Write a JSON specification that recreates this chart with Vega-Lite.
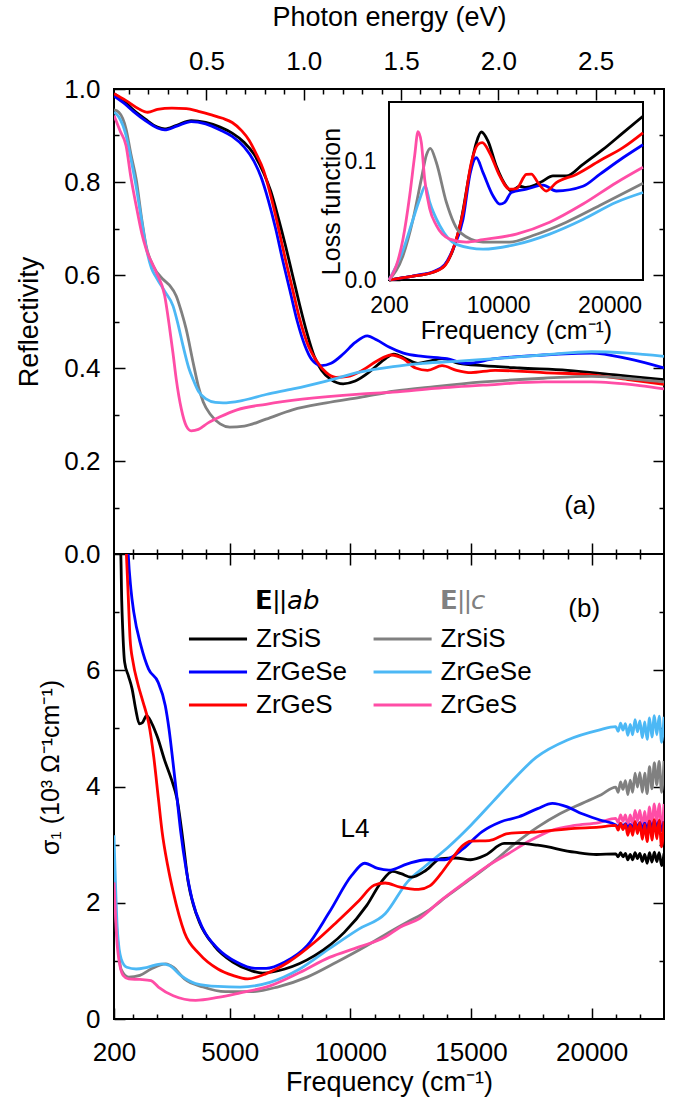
{
  "$schema": "https://vega.github.io/schema/vega-lite/v6.json",
  "padding": {"left": 14, "top": 2, "right": 17, "bottom": 5},
  "background": "white",
  "spacing": 0,
  "bounds": "flush",
  "config": {
    "view": {"stroke": "black", "strokeWidth": 2},
    "axis": {"domain": false, "grid": false, "tickColor": "black", "tickWidth": 1.5, "labelFont": "Liberation Sans", "labelFontSize": 26, "labelColor": "black", "titleFont": "Liberation Sans", "titleFontSize": 27, "titleFontWeight": "normal", "titleColor": "black", "labelOverlap": false, "labelFlush": false, "labelBound": false},
    "text": {"font": "Liberation Sans", "fontSize": 26}
  },
  "datasets": {
    "Rab": [
      {"sample":"ZrSiS ab","freq":200,"value":0.99},{"sample":"ZrSiS ab","freq":600,"value":0.975},{"sample":"ZrSiS ab","freq":1000,"value":0.955},{"sample":"ZrSiS ab","freq":1500,"value":0.935},{"sample":"ZrSiS ab","freq":2000,"value":0.918},{"sample":"ZrSiS ab","freq":2300,"value":0.914},{"sample":"ZrSiS ab","freq":2800,"value":0.922},{"sample":"ZrSiS ab","freq":3400,"value":0.932},{"sample":"ZrSiS ab","freq":4000,"value":0.928},{"sample":"ZrSiS ab","freq":4600,"value":0.918},{"sample":"ZrSiS ab","freq":5100,"value":0.905},{"sample":"ZrSiS ab","freq":5600,"value":0.885},{"sample":"ZrSiS ab","freq":6000,"value":0.86},{"sample":"ZrSiS ab","freq":6400,"value":0.82},{"sample":"ZrSiS ab","freq":6700,"value":0.78},{"sample":"ZrSiS ab","freq":7000,"value":0.725},{"sample":"ZrSiS ab","freq":7300,"value":0.665},{"sample":"ZrSiS ab","freq":7600,"value":0.6},{"sample":"ZrSiS ab","freq":7900,"value":0.535},{"sample":"ZrSiS ab","freq":8200,"value":0.475},{"sample":"ZrSiS ab","freq":8500,"value":0.425},{"sample":"ZrSiS ab","freq":8800,"value":0.395},{"sample":"ZrSiS ab","freq":9200,"value":0.375},{"sample":"ZrSiS ab","freq":9700,"value":0.366},{"sample":"ZrSiS ab","freq":10200,"value":0.372},{"sample":"ZrSiS ab","freq":10800,"value":0.392},{"sample":"ZrSiS ab","freq":11400,"value":0.418},{"sample":"ZrSiS ab","freq":11800,"value":0.43},{"sample":"ZrSiS ab","freq":12300,"value":0.42},{"sample":"ZrSiS ab","freq":12800,"value":0.41},{"sample":"ZrSiS ab","freq":13300,"value":0.415},{"sample":"ZrSiS ab","freq":13800,"value":0.42},{"sample":"ZrSiS ab","freq":14500,"value":0.41},{"sample":"ZrSiS ab","freq":15500,"value":0.405},{"sample":"ZrSiS ab","freq":17000,"value":0.4},{"sample":"ZrSiS ab","freq":19000,"value":0.395},{"sample":"ZrSiS ab","freq":21000,"value":0.385},{"sample":"ZrSiS ab","freq":23000,"value":0.375},
      {"sample":"ZrGeSe ab","freq":200,"value":0.985},{"sample":"ZrGeSe ab","freq":600,"value":0.97},{"sample":"ZrGeSe ab","freq":1000,"value":0.952},{"sample":"ZrGeSe ab","freq":1500,"value":0.932},{"sample":"ZrGeSe ab","freq":2000,"value":0.916},{"sample":"ZrGeSe ab","freq":2300,"value":0.912},{"sample":"ZrGeSe ab","freq":2800,"value":0.92},{"sample":"ZrGeSe ab","freq":3400,"value":0.93},{"sample":"ZrGeSe ab","freq":4000,"value":0.925},{"sample":"ZrGeSe ab","freq":4600,"value":0.912},{"sample":"ZrGeSe ab","freq":5100,"value":0.898},{"sample":"ZrGeSe ab","freq":5600,"value":0.875},{"sample":"ZrGeSe ab","freq":6000,"value":0.845},{"sample":"ZrGeSe ab","freq":6300,"value":0.81},{"sample":"ZrGeSe ab","freq":6600,"value":0.76},{"sample":"ZrGeSe ab","freq":6900,"value":0.7},{"sample":"ZrGeSe ab","freq":7200,"value":0.63},{"sample":"ZrGeSe ab","freq":7500,"value":0.565},{"sample":"ZrGeSe ab","freq":7800,"value":0.5},{"sample":"ZrGeSe ab","freq":8100,"value":0.45},{"sample":"ZrGeSe ab","freq":8400,"value":0.418},{"sample":"ZrGeSe ab","freq":8800,"value":0.405},{"sample":"ZrGeSe ab","freq":9200,"value":0.41},{"sample":"ZrGeSe ab","freq":9700,"value":0.43},{"sample":"ZrGeSe ab","freq":10200,"value":0.455},{"sample":"ZrGeSe ab","freq":10700,"value":0.469},{"sample":"ZrGeSe ab","freq":11100,"value":0.46},{"sample":"ZrGeSe ab","freq":11600,"value":0.445},{"sample":"ZrGeSe ab","freq":12200,"value":0.432},{"sample":"ZrGeSe ab","freq":13000,"value":0.425},{"sample":"ZrGeSe ab","freq":14000,"value":0.42},{"sample":"ZrGeSe ab","freq":14800,"value":0.41},{"sample":"ZrGeSe ab","freq":16000,"value":0.42},{"sample":"ZrGeSe ab","freq":18000,"value":0.428},{"sample":"ZrGeSe ab","freq":20000,"value":0.432},{"sample":"ZrGeSe ab","freq":21500,"value":0.42},{"sample":"ZrGeSe ab","freq":23000,"value":0.4},
      {"sample":"ZrGeS ab","freq":200,"value":0.99},{"sample":"ZrGeS ab","freq":700,"value":0.975},{"sample":"ZrGeS ab","freq":1200,"value":0.958},{"sample":"ZrGeS ab","freq":1600,"value":0.95},{"sample":"ZrGeS ab","freq":2000,"value":0.956},{"sample":"ZrGeS ab","freq":2600,"value":0.959},{"sample":"ZrGeS ab","freq":3200,"value":0.958},{"sample":"ZrGeS ab","freq":3700,"value":0.952},{"sample":"ZrGeS ab","freq":4200,"value":0.945},{"sample":"ZrGeS ab","freq":4700,"value":0.937},{"sample":"ZrGeS ab","freq":5100,"value":0.928},{"sample":"ZrGeS ab","freq":5500,"value":0.91},{"sample":"ZrGeS ab","freq":5800,"value":0.89},{"sample":"ZrGeS ab","freq":6100,"value":0.86},{"sample":"ZrGeS ab","freq":6400,"value":0.825},{"sample":"ZrGeS ab","freq":6700,"value":0.77},{"sample":"ZrGeS ab","freq":7000,"value":0.705},{"sample":"ZrGeS ab","freq":7300,"value":0.635},{"sample":"ZrGeS ab","freq":7600,"value":0.57},{"sample":"ZrGeS ab","freq":7900,"value":0.505},{"sample":"ZrGeS ab","freq":8200,"value":0.455},{"sample":"ZrGeS ab","freq":8600,"value":0.415},{"sample":"ZrGeS ab","freq":9000,"value":0.39},{"sample":"ZrGeS ab","freq":9400,"value":0.38},{"sample":"ZrGeS ab","freq":9900,"value":0.382},{"sample":"ZrGeS ab","freq":10500,"value":0.395},{"sample":"ZrGeS ab","freq":11100,"value":0.415},{"sample":"ZrGeS ab","freq":11700,"value":0.428},{"sample":"ZrGeS ab","freq":12200,"value":0.42},{"sample":"ZrGeS ab","freq":12700,"value":0.4},{"sample":"ZrGeS ab","freq":13200,"value":0.395},{"sample":"ZrGeS ab","freq":13800,"value":0.405},{"sample":"ZrGeS ab","freq":14400,"value":0.395},{"sample":"ZrGeS ab","freq":15000,"value":0.39},{"sample":"ZrGeS ab","freq":16000,"value":0.395},{"sample":"ZrGeS ab","freq":18000,"value":0.39},{"sample":"ZrGeS ab","freq":20000,"value":0.385},{"sample":"ZrGeS ab","freq":21500,"value":0.375},{"sample":"ZrGeS ab","freq":23000,"value":0.365}
    ],
    "Rc": [
      {"sample":"ZrSiS c","freq":200,"value":0.955},{"sample":"ZrSiS c","freq":400,"value":0.95},{"sample":"ZrSiS c","freq":700,"value":0.914},{"sample":"ZrSiS c","freq":900,"value":0.86},{"sample":"ZrSiS c","freq":1120,"value":0.806},{"sample":"ZrSiS c","freq":1350,"value":0.72},{"sample":"ZrSiS c","freq":1530,"value":0.663},{"sample":"ZrSiS c","freq":1820,"value":0.62},{"sample":"ZrSiS c","freq":2230,"value":0.591},{"sample":"ZrSiS c","freq":2500,"value":0.578},{"sample":"ZrSiS c","freq":2780,"value":0.555},{"sample":"ZrSiS c","freq":3000,"value":0.52},{"sample":"ZrSiS c","freq":3190,"value":0.484},{"sample":"ZrSiS c","freq":3475,"value":0.413},{"sample":"ZrSiS c","freq":3700,"value":0.36},{"sample":"ZrSiS c","freq":3900,"value":0.327},{"sample":"ZrSiS c","freq":4200,"value":0.3},{"sample":"ZrSiS c","freq":4600,"value":0.28},{"sample":"ZrSiS c","freq":5000,"value":0.273},{"sample":"ZrSiS c","freq":5600,"value":0.275},{"sample":"ZrSiS c","freq":6500,"value":0.29},{"sample":"ZrSiS c","freq":7600,"value":0.31},{"sample":"ZrSiS c","freq":9000,"value":0.325},{"sample":"ZrSiS c","freq":10400,"value":0.337},{"sample":"ZrSiS c","freq":11800,"value":0.35},{"sample":"ZrSiS c","freq":13500,"value":0.36},{"sample":"ZrSiS c","freq":15500,"value":0.37},{"sample":"ZrSiS c","freq":18000,"value":0.378},{"sample":"ZrSiS c","freq":20000,"value":0.382},{"sample":"ZrSiS c","freq":22000,"value":0.375},{"sample":"ZrSiS c","freq":23000,"value":0.37},
      {"sample":"ZrGeSe c","freq":200,"value":0.95},{"sample":"ZrGeSe c","freq":400,"value":0.94},{"sample":"ZrGeSe c","freq":700,"value":0.9},{"sample":"ZrGeSe c","freq":900,"value":0.85},{"sample":"ZrGeSe c","freq":1120,"value":0.79},{"sample":"ZrGeSe c","freq":1350,"value":0.715},{"sample":"ZrGeSe c","freq":1530,"value":0.66},{"sample":"ZrGeSe c","freq":1750,"value":0.615},{"sample":"ZrGeSe c","freq":1950,"value":0.595},{"sample":"ZrGeSe c","freq":2300,"value":0.565},{"sample":"ZrGeSe c","freq":2650,"value":0.533},{"sample":"ZrGeSe c","freq":2850,"value":0.495},{"sample":"ZrGeSe c","freq":3060,"value":0.448},{"sample":"ZrGeSe c","freq":3300,"value":0.4},{"sample":"ZrGeSe c","freq":3475,"value":0.376},{"sample":"ZrGeSe c","freq":3700,"value":0.35},{"sample":"ZrGeSe c","freq":4030,"value":0.333},{"sample":"ZrGeSe c","freq":4400,"value":0.326},{"sample":"ZrGeSe c","freq":4720,"value":0.325},{"sample":"ZrGeSe c","freq":5500,"value":0.33},{"sample":"ZrGeSe c","freq":6500,"value":0.343},{"sample":"ZrGeSe c","freq":7620,"value":0.355},{"sample":"ZrGeSe c","freq":9000,"value":0.372},{"sample":"ZrGeSe c","freq":10380,"value":0.391},{"sample":"ZrGeSe c","freq":11770,"value":0.403},{"sample":"ZrGeSe c","freq":13000,"value":0.41},{"sample":"ZrGeSe c","freq":14500,"value":0.415},{"sample":"ZrGeSe c","freq":16000,"value":0.42},{"sample":"ZrGeSe c","freq":18000,"value":0.428},{"sample":"ZrGeSe c","freq":20000,"value":0.435},{"sample":"ZrGeSe c","freq":21500,"value":0.432},{"sample":"ZrGeSe c","freq":23000,"value":0.425},
      {"sample":"ZrGeS c","freq":200,"value":0.943},{"sample":"ZrGeS c","freq":450,"value":0.91},{"sample":"ZrGeS c","freq":700,"value":0.878},{"sample":"ZrGeS c","freq":900,"value":0.81},{"sample":"ZrGeS c","freq":1120,"value":0.749},{"sample":"ZrGeS c","freq":1350,"value":0.69},{"sample":"ZrGeS c","freq":1530,"value":0.656},{"sample":"ZrGeS c","freq":1950,"value":0.606},{"sample":"ZrGeS c","freq":2300,"value":0.556},{"sample":"ZrGeS c","freq":2510,"value":0.484},{"sample":"ZrGeS c","freq":2650,"value":0.43},{"sample":"ZrGeS c","freq":2780,"value":0.376},{"sample":"ZrGeS c","freq":2990,"value":0.312},{"sample":"ZrGeS c","freq":3200,"value":0.275},{"sample":"ZrGeS c","freq":3400,"value":0.265},{"sample":"ZrGeS c","freq":3700,"value":0.268},{"sample":"ZrGeS c","freq":4100,"value":0.282},{"sample":"ZrGeS c","freq":4600,"value":0.295},{"sample":"ZrGeS c","freq":5300,"value":0.31},{"sample":"ZrGeS c","freq":6500,"value":0.322},{"sample":"ZrGeS c","freq":8000,"value":0.333},{"sample":"ZrGeS c","freq":10380,"value":0.344},{"sample":"ZrGeS c","freq":11770,"value":0.348},{"sample":"ZrGeS c","freq":13500,"value":0.356},{"sample":"ZrGeS c","freq":15500,"value":0.363},{"sample":"ZrGeS c","freq":18000,"value":0.37},{"sample":"ZrGeS c","freq":20000,"value":0.37},{"sample":"ZrGeS c","freq":22000,"value":0.362},{"sample":"ZrGeS c","freq":23000,"value":0.355}
    ],
    "Sab": [
      {"sample":"ZrSiS ab","freq":200,"value":9.5},{"sample":"ZrSiS ab","freq":400,"value":8.4},{"sample":"ZrSiS ab","freq":482,"value":8.0},{"sample":"ZrSiS ab","freq":520,"value":7.2},{"sample":"ZrSiS ab","freq":561,"value":6.71},{"sample":"ZrSiS ab","freq":640,"value":6.14},{"sample":"ZrSiS ab","freq":800,"value":5.9},{"sample":"ZrSiS ab","freq":950,"value":5.68},{"sample":"ZrSiS ab","freq":1100,"value":5.33},{"sample":"ZrSiS ab","freq":1250,"value":5.08},{"sample":"ZrSiS ab","freq":1380,"value":5.1},{"sample":"ZrSiS ab","freq":1550,"value":5.22},{"sample":"ZrSiS ab","freq":1750,"value":5.1},{"sample":"ZrSiS ab","freq":2000,"value":4.85},{"sample":"ZrSiS ab","freq":2300,"value":4.45},{"sample":"ZrSiS ab","freq":2600,"value":4.1},{"sample":"ZrSiS ab","freq":2812,"value":3.79},{"sample":"ZrSiS ab","freq":3050,"value":3.1},{"sample":"ZrSiS ab","freq":3274,"value":2.36},{"sample":"ZrSiS ab","freq":3500,"value":1.95},{"sample":"ZrSiS ab","freq":3736,"value":1.67},{"sample":"ZrSiS ab","freq":4353,"value":1.26},{"sample":"ZrSiS ab","freq":5123,"value":0.98},{"sample":"ZrSiS ab","freq":5894,"value":0.83},{"sample":"ZrSiS ab","freq":6356,"value":0.79},{"sample":"ZrSiS ab","freq":7281,"value":0.86},{"sample":"ZrSiS ab","freq":8513,"value":1.09},{"sample":"ZrSiS ab","freq":9746,"value":1.49},{"sample":"ZrSiS ab","freq":10671,"value":1.95},{"sample":"ZrSiS ab","freq":11287,"value":2.36},{"sample":"ZrSiS ab","freq":11750,"value":2.54},{"sample":"ZrSiS ab","freq":12100,"value":2.5},{"sample":"ZrSiS ab","freq":12520,"value":2.44},{"sample":"ZrSiS ab","freq":13136,"value":2.56},{"sample":"ZrSiS ab","freq":13753,"value":2.76},{"sample":"ZrSiS ab","freq":14369,"value":2.77},{"sample":"ZrSiS ab","freq":14986,"value":2.74},{"sample":"ZrSiS ab","freq":15602,"value":2.82},{"sample":"ZrSiS ab","freq":16372,"value":3.02},{"sample":"ZrSiS ab","freq":16988,"value":3.02},{"sample":"ZrSiS ab","freq":17759,"value":2.99},{"sample":"ZrSiS ab","freq":19300,"value":2.87},{"sample":"ZrSiS ab","freq":20200,"value":2.83},
      {"sample":"ZrSiS ab","freq":21000,"value":2.84},{"sample":"ZrSiS ab","freq":21100,"value":2.79},{"sample":"ZrSiS ab","freq":21200,"value":2.86},{"sample":"ZrSiS ab","freq":21300,"value":2.79},{"sample":"ZrSiS ab","freq":21400,"value":2.85},{"sample":"ZrSiS ab","freq":21500,"value":2.74},{"sample":"ZrSiS ab","freq":21600,"value":2.83},{"sample":"ZrSiS ab","freq":21700,"value":2.74},{"sample":"ZrSiS ab","freq":21800,"value":2.86},{"sample":"ZrSiS ab","freq":21900,"value":2.76},{"sample":"ZrSiS ab","freq":22000,"value":2.85},{"sample":"ZrSiS ab","freq":22100,"value":2.71},{"sample":"ZrSiS ab","freq":22200,"value":2.83},{"sample":"ZrSiS ab","freq":22300,"value":2.68},{"sample":"ZrSiS ab","freq":22400,"value":2.86},{"sample":"ZrSiS ab","freq":22500,"value":2.7},{"sample":"ZrSiS ab","freq":22600,"value":2.87},{"sample":"ZrSiS ab","freq":22700,"value":2.71},{"sample":"ZrSiS ab","freq":22800,"value":2.86},{"sample":"ZrSiS ab","freq":22900,"value":2.64},{"sample":"ZrSiS ab","freq":23000,"value":2.85},
      {"sample":"ZrGeSe ab","freq":700,"value":9.0},{"sample":"ZrGeSe ab","freq":790,"value":8.0},{"sample":"ZrGeSe ab","freq":900,"value":7.4},{"sample":"ZrGeSe ab","freq":1020,"value":7.0},{"sample":"ZrGeSe ab","freq":1320,"value":6.42},{"sample":"ZrGeSe ab","freq":1634,"value":6.02},{"sample":"ZrGeSe ab","freq":2020,"value":5.8},{"sample":"ZrGeSe ab","freq":2327,"value":5.39},{"sample":"ZrGeSe ab","freq":2480,"value":4.99},{"sample":"ZrGeSe ab","freq":2650,"value":4.4},{"sample":"ZrGeSe ab","freq":2800,"value":3.85},{"sample":"ZrGeSe ab","freq":2966,"value":3.22},{"sample":"ZrGeSe ab","freq":3200,"value":2.55},{"sample":"ZrGeSe ab","freq":3428,"value":2.07},{"sample":"ZrGeSe ab","freq":3890,"value":1.55},{"sample":"ZrGeSe ab","freq":4507,"value":1.21},{"sample":"ZrGeSe ab","freq":5277,"value":0.98},{"sample":"ZrGeSe ab","freq":6048,"value":0.87},{"sample":"ZrGeSe ab","freq":6510,"value":0.87},{"sample":"ZrGeSe ab","freq":7281,"value":0.98},{"sample":"ZrGeSe ab","freq":8205,"value":1.26},{"sample":"ZrGeSe ab","freq":9130,"value":1.84},{"sample":"ZrGeSe ab","freq":10054,"value":2.47},{"sample":"ZrGeSe ab","freq":10594,"value":2.68},{"sample":"ZrGeSe ab","freq":11133,"value":2.59},{"sample":"ZrGeSe ab","freq":11595,"value":2.56},{"sample":"ZrGeSe ab","freq":12366,"value":2.67},{"sample":"ZrGeSe ab","freq":13136,"value":2.74},{"sample":"ZrGeSe ab","freq":13907,"value":2.74},{"sample":"ZrGeSe ab","freq":14677,"value":2.93},{"sample":"ZrGeSe ab","freq":15448,"value":3.22},{"sample":"ZrGeSe ab","freq":16218,"value":3.39},{"sample":"ZrGeSe ab","freq":16988,"value":3.48},{"sample":"ZrGeSe ab","freq":17759,"value":3.62},{"sample":"ZrGeSe ab","freq":18375,"value":3.71},{"sample":"ZrGeSe ab","freq":18991,"value":3.65},{"sample":"ZrGeSe ab","freq":19608,"value":3.53},{"sample":"ZrGeSe ab","freq":20378,"value":3.42},
      {"sample":"ZrGeSe ab","freq":21000,"value":3.34},{"sample":"ZrGeSe ab","freq":21100,"value":3.31},{"sample":"ZrGeSe ab","freq":21200,"value":3.36},{"sample":"ZrGeSe ab","freq":21300,"value":3.32},{"sample":"ZrGeSe ab","freq":21400,"value":3.36},{"sample":"ZrGeSe ab","freq":21500,"value":3.29},{"sample":"ZrGeSe ab","freq":21600,"value":3.35},{"sample":"ZrGeSe ab","freq":21700,"value":3.29},{"sample":"ZrGeSe ab","freq":21800,"value":3.38},{"sample":"ZrGeSe ab","freq":21900,"value":3.31},{"sample":"ZrGeSe ab","freq":22000,"value":3.38},{"sample":"ZrGeSe ab","freq":22100,"value":3.27},{"sample":"ZrGeSe ab","freq":22200,"value":3.37},{"sample":"ZrGeSe ab","freq":22300,"value":3.26},{"sample":"ZrGeSe ab","freq":22400,"value":3.4},{"sample":"ZrGeSe ab","freq":22500,"value":3.28},{"sample":"ZrGeSe ab","freq":22600,"value":3.41},{"sample":"ZrGeSe ab","freq":22700,"value":3.29},{"sample":"ZrGeSe ab","freq":22800,"value":3.41},{"sample":"ZrGeSe ab","freq":22900,"value":3.24},{"sample":"ZrGeSe ab","freq":23000,"value":3.4},
      {"sample":"ZrGeS ab","freq":600,"value":9.0},{"sample":"ZrGeS ab","freq":714,"value":8.0},{"sample":"ZrGeS ab","freq":790,"value":7.28},{"sample":"ZrGeS ab","freq":867,"value":6.54},{"sample":"ZrGeS ab","freq":990,"value":6.14},{"sample":"ZrGeS ab","freq":1174,"value":5.79},{"sample":"ZrGeS ab","freq":1405,"value":5.45},{"sample":"ZrGeS ab","freq":1634,"value":5.1},{"sample":"ZrGeS ab","freq":1850,"value":4.5},{"sample":"ZrGeS ab","freq":2041,"value":3.79},{"sample":"ZrGeS ab","freq":2195,"value":3.22},{"sample":"ZrGeS ab","freq":2426,"value":2.64},{"sample":"ZrGeS ab","freq":2658,"value":2.18},{"sample":"ZrGeS ab","freq":3120,"value":1.49},{"sample":"ZrGeS ab","freq":3736,"value":1.12},{"sample":"ZrGeS ab","freq":4507,"value":0.86},{"sample":"ZrGeS ab","freq":5123,"value":0.75},{"sample":"ZrGeS ab","freq":5740,"value":0.69},{"sample":"ZrGeS ab","freq":6510,"value":0.78},{"sample":"ZrGeS ab","freq":7435,"value":0.98},{"sample":"ZrGeS ab","freq":8513,"value":1.32},{"sample":"ZrGeS ab","freq":9438,"value":1.67},{"sample":"ZrGeS ab","freq":10363,"value":2.04},{"sample":"ZrGeS ab","freq":10979,"value":2.3},{"sample":"ZrGeS ab","freq":11441,"value":2.34},{"sample":"ZrGeS ab","freq":12058,"value":2.27},{"sample":"ZrGeS ab","freq":12828,"value":2.23},{"sample":"ZrGeS ab","freq":13291,"value":2.29},{"sample":"ZrGeS ab","freq":13753,"value":2.5},{"sample":"ZrGeS ab","freq":14215,"value":2.76},{"sample":"ZrGeS ab","freq":14677,"value":2.99},{"sample":"ZrGeS ab","freq":14986,"value":3.06},{"sample":"ZrGeS ab","freq":15756,"value":3.07},{"sample":"ZrGeS ab","freq":16527,"value":3.19},{"sample":"ZrGeS ab","freq":17759,"value":3.22},{"sample":"ZrGeS ab","freq":19300,"value":3.28},{"sample":"ZrGeS ab","freq":20300,"value":3.3},
      {"sample":"ZrGeS ab","freq":21000,"value":3.33},{"sample":"ZrGeS ab","freq":21100,"value":3.25},{"sample":"ZrGeS ab","freq":21200,"value":3.37},{"sample":"ZrGeS ab","freq":21300,"value":3.26},{"sample":"ZrGeS ab","freq":21400,"value":3.35},{"sample":"ZrGeS ab","freq":21500,"value":3.16},{"sample":"ZrGeS ab","freq":21600,"value":3.33},{"sample":"ZrGeS ab","freq":21700,"value":3.16},{"sample":"ZrGeS ab","freq":21800,"value":3.4},{"sample":"ZrGeS ab","freq":21900,"value":3.19},{"sample":"ZrGeS ab","freq":22000,"value":3.38},{"sample":"ZrGeS ab","freq":22100,"value":3.09},{"sample":"ZrGeS ab","freq":22200,"value":3.35},{"sample":"ZrGeS ab","freq":22300,"value":3.05},{"sample":"ZrGeS ab","freq":22400,"value":3.41},{"sample":"ZrGeS ab","freq":22500,"value":3.08},{"sample":"ZrGeS ab","freq":22600,"value":3.43},{"sample":"ZrGeS ab","freq":22700,"value":3.1},{"sample":"ZrGeS ab","freq":22800,"value":3.42},{"sample":"ZrGeS ab","freq":22900,"value":2.96},{"sample":"ZrGeS ab","freq":23000,"value":3.4}
    ],
    "Sc": [
      {"sample":"ZrSiS c","freq":200,"value":2.3},{"sample":"ZrSiS c","freq":346,"value":1.38},{"sample":"ZrSiS c","freq":500,"value":0.85},{"sample":"ZrSiS c","freq":808,"value":0.72},{"sample":"ZrSiS c","freq":1271,"value":0.75},{"sample":"ZrSiS c","freq":1733,"value":0.86},{"sample":"ZrSiS c","freq":2350,"value":0.95},{"sample":"ZrSiS c","freq":2658,"value":0.89},{"sample":"ZrSiS c","freq":3120,"value":0.69},{"sample":"ZrSiS c","freq":3890,"value":0.55},{"sample":"ZrSiS c","freq":4815,"value":0.47},{"sample":"ZrSiS c","freq":5894,"value":0.47},{"sample":"ZrSiS c","freq":6972,"value":0.55},{"sample":"ZrSiS c","freq":8205,"value":0.72},{"sample":"ZrSiS c","freq":9438,"value":0.98},{"sample":"ZrSiS c","freq":10671,"value":1.26},{"sample":"ZrSiS c","freq":11595,"value":1.49},{"sample":"ZrSiS c","freq":12366,"value":1.67},{"sample":"ZrSiS c","freq":13136,"value":1.84},{"sample":"ZrSiS c","freq":14061,"value":2.13},{"sample":"ZrSiS c","freq":14986,"value":2.41},{"sample":"ZrSiS c","freq":15910,"value":2.7},{"sample":"ZrSiS c","freq":16834,"value":3.02},{"sample":"ZrSiS c","freq":17759,"value":3.3},{"sample":"ZrSiS c","freq":18683,"value":3.53},{"sample":"ZrSiS c","freq":19608,"value":3.71},{"sample":"ZrSiS c","freq":20400,"value":3.86},
      {"sample":"ZrSiS c","freq":21000,"value":3.99},{"sample":"ZrSiS c","freq":21100,"value":3.9},{"sample":"ZrSiS c","freq":21200,"value":4.08},{"sample":"ZrSiS c","freq":21300,"value":3.95},{"sample":"ZrSiS c","freq":21400,"value":4.1},{"sample":"ZrSiS c","freq":21500,"value":3.86},{"sample":"ZrSiS c","freq":21600,"value":4.11},{"sample":"ZrSiS c","freq":21700,"value":3.9},{"sample":"ZrSiS c","freq":21800,"value":4.23},{"sample":"ZrSiS c","freq":21900,"value":3.99},{"sample":"ZrSiS c","freq":22000,"value":4.24},{"sample":"ZrSiS c","freq":22100,"value":3.9},{"sample":"ZrSiS c","freq":22200,"value":4.23},{"sample":"ZrSiS c","freq":22300,"value":3.88},{"sample":"ZrSiS c","freq":22400,"value":4.34},{"sample":"ZrSiS c","freq":22500,"value":3.96},{"sample":"ZrSiS c","freq":22600,"value":4.41},{"sample":"ZrSiS c","freq":22700,"value":4.03},{"sample":"ZrSiS c","freq":22800,"value":4.43},{"sample":"ZrSiS c","freq":22900,"value":3.9},{"sample":"ZrSiS c","freq":23000,"value":4.44},
      {"sample":"ZrGeSe c","freq":200,"value":3.16},{"sample":"ZrGeSe c","freq":346,"value":1.49},{"sample":"ZrGeSe c","freq":500,"value":1.03},{"sample":"ZrGeSe c","freq":731,"value":0.89},{"sample":"ZrGeSe c","freq":1117,"value":0.86},{"sample":"ZrGeSe c","freq":1579,"value":0.89},{"sample":"ZrGeSe c","freq":2195,"value":0.95},{"sample":"ZrGeSe c","freq":2504,"value":0.92},{"sample":"ZrGeSe c","freq":2966,"value":0.75},{"sample":"ZrGeSe c","freq":3582,"value":0.61},{"sample":"ZrGeSe c","freq":4507,"value":0.56},{"sample":"ZrGeSe c","freq":5431,"value":0.55},{"sample":"ZrGeSe c","freq":6664,"value":0.63},{"sample":"ZrGeSe c","freq":7897,"value":0.86},{"sample":"ZrGeSe c","freq":9130,"value":1.21},{"sample":"ZrGeSe c","freq":10363,"value":1.55},{"sample":"ZrGeSe c","freq":11441,"value":1.81},{"sample":"ZrGeSe c","freq":12366,"value":2.36},{"sample":"ZrGeSe c","freq":13136,"value":2.64},{"sample":"ZrGeSe c","freq":14061,"value":2.96},{"sample":"ZrGeSe c","freq":14986,"value":3.33},{"sample":"ZrGeSe c","freq":15910,"value":3.74},{"sample":"ZrGeSe c","freq":16600,"value":4.05},{"sample":"ZrGeSe c","freq":17700,"value":4.5},{"sample":"ZrGeSe c","freq":19000,"value":4.8},{"sample":"ZrGeSe c","freq":20300,"value":4.97},
      {"sample":"ZrGeSe c","freq":21000,"value":5.03},{"sample":"ZrGeSe c","freq":21100,"value":4.95},{"sample":"ZrGeSe c","freq":21200,"value":5.09},{"sample":"ZrGeSe c","freq":21300,"value":4.97},{"sample":"ZrGeSe c","freq":21400,"value":5.08},{"sample":"ZrGeSe c","freq":21500,"value":4.88},{"sample":"ZrGeSe c","freq":21600,"value":5.07},{"sample":"ZrGeSe c","freq":21700,"value":4.89},{"sample":"ZrGeSe c","freq":21800,"value":5.15},{"sample":"ZrGeSe c","freq":21900,"value":4.94},{"sample":"ZrGeSe c","freq":22000,"value":5.13},{"sample":"ZrGeSe c","freq":22100,"value":4.84},{"sample":"ZrGeSe c","freq":22200,"value":5.11},{"sample":"ZrGeSe c","freq":22300,"value":4.81},{"sample":"ZrGeSe c","freq":22400,"value":5.18},{"sample":"ZrGeSe c","freq":22500,"value":4.85},{"sample":"ZrGeSe c","freq":22600,"value":5.22},{"sample":"ZrGeSe c","freq":22700,"value":4.89},{"sample":"ZrGeSe c","freq":22800,"value":5.21},{"sample":"ZrGeSe c","freq":22900,"value":4.76},{"sample":"ZrGeSe c","freq":23000,"value":5.2},
      {"sample":"ZrGeS c","freq":200,"value":2.35},{"sample":"ZrGeS c","freq":346,"value":1.21},{"sample":"ZrGeS c","freq":577,"value":0.75},{"sample":"ZrGeS c","freq":808,"value":0.69},{"sample":"ZrGeS c","freq":1271,"value":0.68},{"sample":"ZrGeS c","freq":1733,"value":0.66},{"sample":"ZrGeS c","freq":2041,"value":0.55},{"sample":"ZrGeS c","freq":2658,"value":0.4},{"sample":"ZrGeS c","freq":3582,"value":0.32},{"sample":"ZrGeS c","freq":4507,"value":0.37},{"sample":"ZrGeS c","freq":5431,"value":0.45},{"sample":"ZrGeS c","freq":6664,"value":0.57},{"sample":"ZrGeS c","freq":7897,"value":0.8},{"sample":"ZrGeS c","freq":9130,"value":1.06},{"sample":"ZrGeS c","freq":10363,"value":1.24},{"sample":"ZrGeS c","freq":11441,"value":1.41},{"sample":"ZrGeS c","freq":12058,"value":1.58},{"sample":"ZrGeS c","freq":12828,"value":1.72},{"sample":"ZrGeS c","freq":13753,"value":2.04},{"sample":"ZrGeS c","freq":14677,"value":2.33},{"sample":"ZrGeS c","freq":15602,"value":2.61},{"sample":"ZrGeS c","freq":16527,"value":2.84},{"sample":"ZrGeS c","freq":17451,"value":3.07},{"sample":"ZrGeS c","freq":18375,"value":3.25},{"sample":"ZrGeS c","freq":19300,"value":3.33},{"sample":"ZrGeS c","freq":20300,"value":3.38},
      {"sample":"ZrGeS c","freq":21000,"value":3.45},{"sample":"ZrGeS c","freq":21100,"value":3.38},{"sample":"ZrGeS c","freq":21200,"value":3.51},{"sample":"ZrGeS c","freq":21300,"value":3.4},{"sample":"ZrGeS c","freq":21400,"value":3.51},{"sample":"ZrGeS c","freq":21500,"value":3.33},{"sample":"ZrGeS c","freq":21600,"value":3.51},{"sample":"ZrGeS c","freq":21700,"value":3.34},{"sample":"ZrGeS c","freq":21800,"value":3.59},{"sample":"ZrGeS c","freq":21900,"value":3.4},{"sample":"ZrGeS c","freq":22000,"value":3.59},{"sample":"ZrGeS c","freq":22100,"value":3.31},{"sample":"ZrGeS c","freq":22200,"value":3.57},{"sample":"ZrGeS c","freq":22300,"value":3.29},{"sample":"ZrGeS c","freq":22400,"value":3.65},{"sample":"ZrGeS c","freq":22500,"value":3.34},{"sample":"ZrGeS c","freq":22600,"value":3.7},{"sample":"ZrGeS c","freq":22700,"value":3.38},{"sample":"ZrGeS c","freq":22800,"value":3.7},{"sample":"ZrGeS c","freq":22900,"value":3.26},{"sample":"ZrGeS c","freq":23000,"value":3.7}
    ],
    "Lab": [
      {"sample":"ZrSiS ab","freq":200,"value":0},{"sample":"ZrSiS ab","freq":1500,"value":0.002},{"sample":"ZrSiS ab","freq":2650,"value":0.0036},{"sample":"ZrSiS ab","freq":4150,"value":0.0065},{"sample":"ZrSiS ab","freq":5200,"value":0.0123},{"sample":"ZrSiS ab","freq":5945,"value":0.0255},{"sample":"ZrSiS ab","freq":6690,"value":0.051},{"sample":"ZrSiS ab","freq":7440,"value":0.0905},{"sample":"ZrSiS ab","freq":8040,"value":0.1157},{"sample":"ZrSiS ab","freq":8485,"value":0.1247},{"sample":"ZrSiS ab","freq":9087,"value":0.117},{"sample":"ZrSiS ab","freq":9830,"value":0.096},{"sample":"ZrSiS ab","freq":10730,"value":0.079},{"sample":"ZrSiS ab","freq":11180,"value":0.075},{"sample":"ZrSiS ab","freq":11930,"value":0.079},{"sample":"ZrSiS ab","freq":12500,"value":0.078},{"sample":"ZrSiS ab","freq":13300,"value":0.08},{"sample":"ZrSiS ab","freq":14020,"value":0.0835},{"sample":"ZrSiS ab","freq":14920,"value":0.0877},{"sample":"ZrSiS ab","freq":16120,"value":0.0877},{"sample":"ZrSiS ab","freq":17610,"value":0.0975},{"sample":"ZrSiS ab","freq":19410,"value":0.11},{"sample":"ZrSiS ab","freq":21200,"value":0.124},{"sample":"ZrSiS ab","freq":23000,"value":0.138},
      {"sample":"ZrGeSe ab","freq":200,"value":0},{"sample":"ZrGeSe ab","freq":1500,"value":0.002},{"sample":"ZrGeSe ab","freq":2650,"value":0.004},{"sample":"ZrGeSe ab","freq":4150,"value":0.007},{"sample":"ZrGeSe ab","freq":5200,"value":0.013},{"sample":"ZrGeSe ab","freq":5945,"value":0.026},{"sample":"ZrGeSe ab","freq":6840,"value":0.051},{"sample":"ZrGeSe ab","freq":7500,"value":0.0905},{"sample":"ZrGeSe ab","freq":8040,"value":0.103},{"sample":"ZrGeSe ab","freq":8640,"value":0.0905},{"sample":"ZrGeSe ab","freq":9535,"value":0.071},{"sample":"ZrGeSe ab","freq":10140,"value":0.064},{"sample":"ZrGeSe ab","freq":10590,"value":0.0655},{"sample":"ZrGeSe ab","freq":11180,"value":0.0737},{"sample":"ZrGeSe ab","freq":12530,"value":0.0765},{"sample":"ZrGeSe ab","freq":14020,"value":0.08},{"sample":"ZrGeSe ab","freq":15220,"value":0.075},{"sample":"ZrGeSe ab","freq":17610,"value":0.079},{"sample":"ZrGeSe ab","freq":19110,"value":0.089},{"sample":"ZrGeSe ab","freq":21200,"value":0.103},{"sample":"ZrGeSe ab","freq":23000,"value":0.114},
      {"sample":"ZrGeS ab","freq":200,"value":0},{"sample":"ZrGeS ab","freq":1500,"value":0.002},{"sample":"ZrGeS ab","freq":2650,"value":0.0036},{"sample":"ZrGeS ab","freq":4150,"value":0.0065},{"sample":"ZrGeS ab","freq":5200,"value":0.012},{"sample":"ZrGeS ab","freq":5945,"value":0.026},{"sample":"ZrGeS ab","freq":6840,"value":0.057},{"sample":"ZrGeS ab","freq":7590,"value":0.099},{"sample":"ZrGeS ab","freq":8190,"value":0.1143},{"sample":"ZrGeS ab","freq":8575,"value":0.1157},{"sample":"ZrGeS ab","freq":9240,"value":0.107},{"sample":"ZrGeS ab","freq":10140,"value":0.0877},{"sample":"ZrGeS ab","freq":11030,"value":0.0765},{"sample":"ZrGeS ab","freq":11630,"value":0.077},{"sample":"ZrGeS ab","freq":12530,"value":0.089},{"sample":"ZrGeS ab","freq":12980,"value":0.0893},{"sample":"ZrGeS ab","freq":13570,"value":0.082},{"sample":"ZrGeS ab","freq":14320,"value":0.075},{"sample":"ZrGeS ab","freq":15220,"value":0.082},{"sample":"ZrGeS ab","freq":17010,"value":0.089},{"sample":"ZrGeS ab","freq":19110,"value":0.1005},{"sample":"ZrGeS ab","freq":21200,"value":0.1115},{"sample":"ZrGeS ab","freq":23000,"value":0.124}
    ],
    "Lc": [
      {"sample":"ZrSiS c","freq":200,"value":0},{"sample":"ZrSiS c","freq":1457,"value":0.0205},{"sample":"ZrSiS c","freq":2354,"value":0.051},{"sample":"ZrSiS c","freq":3100,"value":0.085},{"sample":"ZrSiS c","freq":3548,"value":0.105},{"sample":"ZrSiS c","freq":3907,"value":0.111},{"sample":"ZrSiS c","freq":4450,"value":0.099},{"sample":"ZrSiS c","freq":5350,"value":0.0655},{"sample":"ZrSiS c","freq":6546,"value":0.0403},{"sample":"ZrSiS c","freq":8640,"value":0.032},{"sample":"ZrSiS c","freq":11030,"value":0.032},{"sample":"ZrSiS c","freq":13125,"value":0.0375},{"sample":"ZrSiS c","freq":16120,"value":0.0487},{"sample":"ZrSiS c","freq":19110,"value":0.0627},{"sample":"ZrSiS c","freq":23000,"value":0.0815},
      {"sample":"ZrGeSe c","freq":200,"value":0},{"sample":"ZrGeSe c","freq":1457,"value":0.025},{"sample":"ZrGeSe c","freq":2354,"value":0.051},{"sample":"ZrGeSe c","freq":2953,"value":0.068},{"sample":"ZrGeSe c","freq":3460,"value":0.079},{"sample":"ZrGeSe c","freq":3853,"value":0.0655},{"sample":"ZrGeSe c","freq":4750,"value":0.046},{"sample":"ZrGeSe c","freq":6240,"value":0.03},{"sample":"ZrGeSe c","freq":8640,"value":0.026},{"sample":"ZrGeSe c","freq":11630,"value":0.03},{"sample":"ZrGeSe c","freq":14620,"value":0.0387},{"sample":"ZrGeSe c","freq":17610,"value":0.051},{"sample":"ZrGeSe c","freq":20600,"value":0.0655},{"sample":"ZrGeSe c","freq":23000,"value":0.0737},
      {"sample":"ZrGeS c","freq":200,"value":0},{"sample":"ZrGeS c","freq":857,"value":0.012},{"sample":"ZrGeS c","freq":1457,"value":0.0345},{"sample":"ZrGeS c","freq":2056,"value":0.071},{"sample":"ZrGeS c","freq":2506,"value":0.105},{"sample":"ZrGeS c","freq":2803,"value":0.125},{"sample":"ZrGeS c","freq":3100,"value":0.116},{"sample":"ZrGeS c","freq":3400,"value":0.085},{"sample":"ZrGeS c","freq":3853,"value":0.06},{"sample":"ZrGeS c","freq":4450,"value":0.046},{"sample":"ZrGeS c","freq":5650,"value":0.0345},{"sample":"ZrGeS c","freq":7140,"value":0.032},{"sample":"ZrGeS c","freq":8640,"value":0.034},{"sample":"ZrGeS c","freq":11630,"value":0.0387},{"sample":"ZrGeS c","freq":14620,"value":0.0487},{"sample":"ZrGeS c","freq":17610,"value":0.064},{"sample":"ZrGeS c","freq":20600,"value":0.082},{"sample":"ZrGeS c","freq":23000,"value":0.095}
    ]
  },
  "resolve": {"legend": {"color": "independent", "stroke": "independent"}},
  "vconcat": [
    {
      "width": 550,
      "height": 465,
      "layer": [
        {
          "layer": [
            {
              "data": {"name": "Rab"},
              "mark": {"type": "line", "strokeWidth": 2.8, "interpolate": "monotone", "clip": true},
              "encoding": {
                "x": {"field": "freq", "type": "quantitative", "scale": {"domain": [200, 23000], "nice": false, "zero": false},
                  "axis": {"orient": "bottom", "title": null, "labels": false, "values": [5000,10000,15000,20000], "tickSize": -11}},
                "y": {"field": "value", "type": "quantitative", "scale": {"domain": [0, 1], "nice": false, "zero": false},
                  "axis": {"orient": "left", "title": "Reflectivity", "titlePadding": 20, "labelPadding": 25, "values": [0,0.2,0.4,0.6,0.8,1.0], "format": ".1f", "tickSize": -11}},
                "stroke": {"field": "sample", "type": "nominal", "scale": {"domain": ["ZrSiS ab","ZrGeSe ab","ZrGeS ab"], "range": ["#000000","#0000ff","#ff0000"]}, "legend": null}
              }
            },
            {
              "data": {"name": "Rc"},
              "mark": {"type": "line", "strokeWidth": 2.8, "interpolate": "monotone", "clip": true},
              "encoding": {
                "x": {"field": "freq", "type": "quantitative",
                  "axis": {"orient": "bottom", "title": null, "labels": false, "values": [1000,2000,3000,4000,6000,7000,8000,9000,11000,12000,13000,14000,16000,17000,18000,19000,21000,22000], "tickSize": -5}},
                "y": {"field": "value", "type": "quantitative",
                  "axis": {"orient": "left", "title": null, "labels": false, "values": [0.1,0.3,0.5,0.7,0.9], "tickSize": -5}},
                "color": {"field": "sample", "type": "nominal", "scale": {"domain": ["ZrSiS c","ZrGeSe c","ZrGeS c"], "range": ["#808080","#4cb8f5","#ff4da6"]}, "legend": null}
              }
            },
            {
              "data": {"name": "Rab"},
              "mark": {"type": "line", "strokeOpacity": 0},
              "encoding": {
                "x": {"field": "freq", "type": "quantitative",
                  "axis": {"orient": "top", "title": "Photon energy (eV)", "titlePadding": 17, "labelPadding": 26,
                    "values": [4032.77,8065.54,12098.31,16131.08,20163.85],
                    "labelExpr": "format(datum.value/8065.54, '.1f')", "tickSize": -11}},
                "y": {"field": "value", "type": "quantitative",
                  "axis": {"orient": "right", "title": null, "labels": false, "values": [0.2,0.4,0.6,0.8], "tickSize": -11}},
                "detail": {"field": "sample", "type": "nominal"}
              }
            },
            {
              "data": {"values": [{}]},
              "mark": {"type": "text", "fontSize": 26, "font": "Liberation Sans"},
              "encoding": {
                "x": {"datum": 19520, "type": "quantitative",
                  "axis": {"orient": "top", "title": null, "labels": false,
                    "values": [806.554,1613.108,2419.662,3226.216,4839.324,5645.878,6452.432,7258.986,8872.094,9678.648,10485.202,11291.756,12904.864,13711.418,14517.972,15324.526,16937.634,17744.188,18550.742,19357.296,20970.404,21776.958,22583.512],
                    "tickSize": -5}},
                "y": {"datum": 0.103, "type": "quantitative",
                  "axis": {"orient": "right", "title": null, "labels": false, "values": [0.1,0.3,0.5,0.7,0.9], "tickSize": -5}},
                "text": {"value": "(a)"}
              }
            }
          ],
          "resolve": {"axis": {"x": "independent", "y": "independent"}}
        },
        {
          "layer": [
            {
              "data": {"values": [{}]},
              "mark": {"type": "rect", "fill": "white", "stroke": "black", "strokeWidth": 2},
              "encoding": {
                "x": {"datum": 200, "type": "quantitative", "scale": {"domain": [200, 23000], "range": [275, 529], "nice": false, "zero": false},
                  "axis": {"orient": "bottom", "offset": -274, "title": "Frequency (cm⁻¹)", "titlePadding": 1, "labelPadding": 25, "labelFontSize": 23, "titleFontSize": 25,
                    "values": [200,10000,20000], "format": "d", "tickSize": -11}},
                "x2": {"datum": 23000},
                "y": {"datum": 0, "type": "quantitative", "scale": {"domain": [0, 0.15], "range": [191, 13], "nice": false, "zero": false},
                  "axis": {"orient": "left", "offset": -275, "title": "Loss function", "titlePadding": 0, "titleY": 112, "labelPadding": 24, "labelFontSize": 23, "titleFontSize": 25,
                    "values": [0, 0.1], "format": ".1f", "tickSize": -11}},
                "y2": {"datum": 0.15}
              }
            },
            {
              "data": {"name": "Lab"},
              "mark": {"type": "line", "strokeWidth": 2.8, "interpolate": "monotone", "clip": true},
              "encoding": {
                "x": {"field": "freq", "type": "quantitative",
                  "axis": {"orient": "bottom", "offset": -274, "title": null, "labels": false,
                    "values": [1666.667,3333.333,5000,6666.667,8333.333,11666.667,13333.333,15000,16666.667,18333.333,21666.667], "tickSize": -5}},
                "y": {"field": "value", "type": "quantitative",
                  "axis": {"orient": "left", "offset": -275, "title": null, "labels": false, "values": [0.05], "tickSize": -5}},
                "stroke": {"field": "sample", "type": "nominal", "legend": null}
              }
            },
            {
              "data": {"name": "Lc"},
              "mark": {"type": "line", "strokeWidth": 2.8, "interpolate": "monotone", "clip": true},
              "encoding": {
                "x": {"field": "freq", "type": "quantitative",
                  "axis": {"orient": "top", "offset": -13, "title": null, "labels": false, "values": [10000, 20000], "tickSize": -11}},
                "y": {"field": "value", "type": "quantitative",
                  "axis": {"orient": "right", "offset": -21, "title": null, "labels": false, "values": [0.1], "tickSize": -11}},
                "color": {"field": "sample", "type": "nominal", "legend": null}
              }
            },
            {
              "data": {"values": [{}]},
              "mark": {"type": "rect", "opacity": 0},
              "encoding": {
                "x": {"datum": 200, "type": "quantitative",
                  "axis": {"orient": "top", "offset": -13, "title": null, "labels": false,
                    "values": [1666.667,3333.333,5000,6666.667,8333.333,11666.667,13333.333,15000,16666.667,18333.333,21666.667], "tickSize": -5}},
                "x2": {"datum": 23000},
                "y": {"datum": 0, "type": "quantitative",
                  "axis": {"orient": "right", "offset": -21, "title": null, "labels": false, "values": [0.05], "tickSize": -5}},
                "y2": {"datum": 0.15}
              }
            }
          ],
          "resolve": {"axis": {"x": "independent", "y": "independent"}}
        }
      ],
      "resolve": {"scale": {"x": "independent", "y": "independent"}}
    },
    {
      "width": 550,
      "height": 465,
      "layer": [
        {
          "data": {"name": "Sc"},
          "mark": {"type": "line", "strokeWidth": 2.8, "interpolate": "monotone", "clip": true},
          "encoding": {
            "x": {"field": "freq", "type": "quantitative", "scale": {"domain": [200, 23000], "nice": false, "zero": false},
              "axis": {"orient": "bottom", "title": "Frequency (cm⁻¹)", "titlePadding": 4, "labelPadding": 31,
                "values": [200,5000,10000,15000,20000], "format": "d", "tickSize": -11}},
            "y": {"field": "value", "type": "quantitative", "scale": {"domain": [0, 8], "nice": false, "zero": false},
              "axis": {"orient": "left", "title": "σ₁ (10³ Ω⁻¹cm⁻¹)", "titleFontSize": 25, "titlePadding": 22, "titleY": 213, "labelPadding": 25,
                "values": [0,2,4,6], "format": "d", "tickSize": -11}},
            "color": {"field": "sample", "type": "nominal", "scale": {"domain": ["ZrSiS c","ZrGeSe c","ZrGeS c"], "range": ["#808080","#4cb8f5","#ff4da6"]},
              "legend": {"title": null, "orient": "none", "legendX": 275.6, "legendY": 72, "symbolType": "M-2.64,0H2.64", "symbolSize": 484, "symbolStrokeWidth": 3,
                "labelFont": "Liberation Sans", "labelFontSize": 26, "labelColor": "black", "labelOffset": 25, "labelExpr": "split(datum.label, ' ')[0]",
                "rowPadding": 7, "padding": 0}}
          }
        },
        {
          "data": {"name": "Sab"},
          "mark": {"type": "line", "strokeWidth": 2.8, "interpolate": "monotone", "clip": true},
          "encoding": {
            "x": {"field": "freq", "type": "quantitative",
              "axis": {"orient": "bottom", "title": null, "labels": false, "values": [1000,2000,3000,4000,6000,7000,8000,9000,11000,12000,13000,14000,16000,17000,18000,19000,21000,22000], "tickSize": -5}},
            "y": {"field": "value", "type": "quantitative",
              "axis": {"orient": "left", "title": null, "labels": false, "values": [1,3,5,7], "tickSize": -5}},
            "stroke": {"field": "sample", "type": "nominal", "scale": {"domain": ["ZrSiS ab","ZrGeSe ab","ZrGeS ab"], "range": ["#000000","#0000ff","#ff0000"]},
              "legend": {"title": null, "orient": "none", "legendX": 91, "legendY": 72, "symbolType": "M-2.64,0H2.64", "symbolSize": 484, "symbolStrokeWidth": 3,
                "labelFont": "Liberation Sans", "labelFontSize": 26, "labelColor": "black", "labelOffset": 25, "labelExpr": "split(datum.label, ' ')[0]",
                "rowPadding": 7, "padding": 0}}
          }
        },
        {
          "data": {"name": "Sab"},
          "mark": {"type": "line", "strokeOpacity": 0},
          "encoding": {
            "x": {"field": "freq", "type": "quantitative",
              "axis": {"orient": "top", "title": null, "labels": false, "values": [5000,10000,15000,20000], "tickSize": -11}},
            "y": {"field": "value", "type": "quantitative",
              "axis": {"orient": "right", "title": null, "labels": false, "values": [2,4,6], "tickSize": -11}},
            "detail": {"field": "sample", "type": "nominal"}
          }
        },
        {
          "data": {"values": [{}]},
          "mark": {"type": "text", "fontSize": 26, "font": "Liberation Sans"},
          "encoding": {
            "x": {"datum": 10190, "type": "quantitative",
              "axis": {"orient": "top", "title": null, "labels": false, "values": [1000,2000,3000,4000,6000,7000,8000,9000,11000,12000,13000,14000,16000,17000,18000,19000,21000,22000], "tickSize": -5}},
            "y": {"datum": 3.27, "type": "quantitative",
              "axis": {"orient": "right", "title": null, "labels": false, "values": [1,3,5,7], "tickSize": -5}},
            "text": {"value": "L4"}
          }
        },
        {
          "data": {"values": [{}]},
          "mark": {"type": "text", "fontSize": 26, "font": "Liberation Sans"},
          "encoding": {
            "x": {"datum": 19690, "type": "quantitative", "axis": null},
            "y": {"datum": 7.05, "type": "quantitative", "axis": null},
            "text": {"value": "(b)"}
          }
        },
        {
          "data": {"values": [{}]},
          "mark": {"type": "text", "fontSize": 26, "font": "Liberation Sans", "align": "left", "baseline": "middle", "color": "black"},
          "encoding": {
            "x": {"datum": 6050, "type": "quantitative", "axis": null},
            "y": {"datum": 7.19, "type": "quantitative", "axis": null},
            "text": {"value": "𝗘||𝘢𝘣"}
          }
        },
        {
          "data": {"values": [{}]},
          "mark": {"type": "text", "fontSize": 26, "font": "Liberation Sans", "align": "left", "baseline": "middle", "color": "#808080"},
          "encoding": {
            "x": {"datum": 13700, "type": "quantitative", "axis": null},
            "y": {"datum": 7.19, "type": "quantitative", "axis": null},
            "text": {"value": "𝗘||𝘤"}
          }
        }
      ],
      "resolve": {"axis": {"x": "independent", "y": "independent"}}
    }
  ]
}
